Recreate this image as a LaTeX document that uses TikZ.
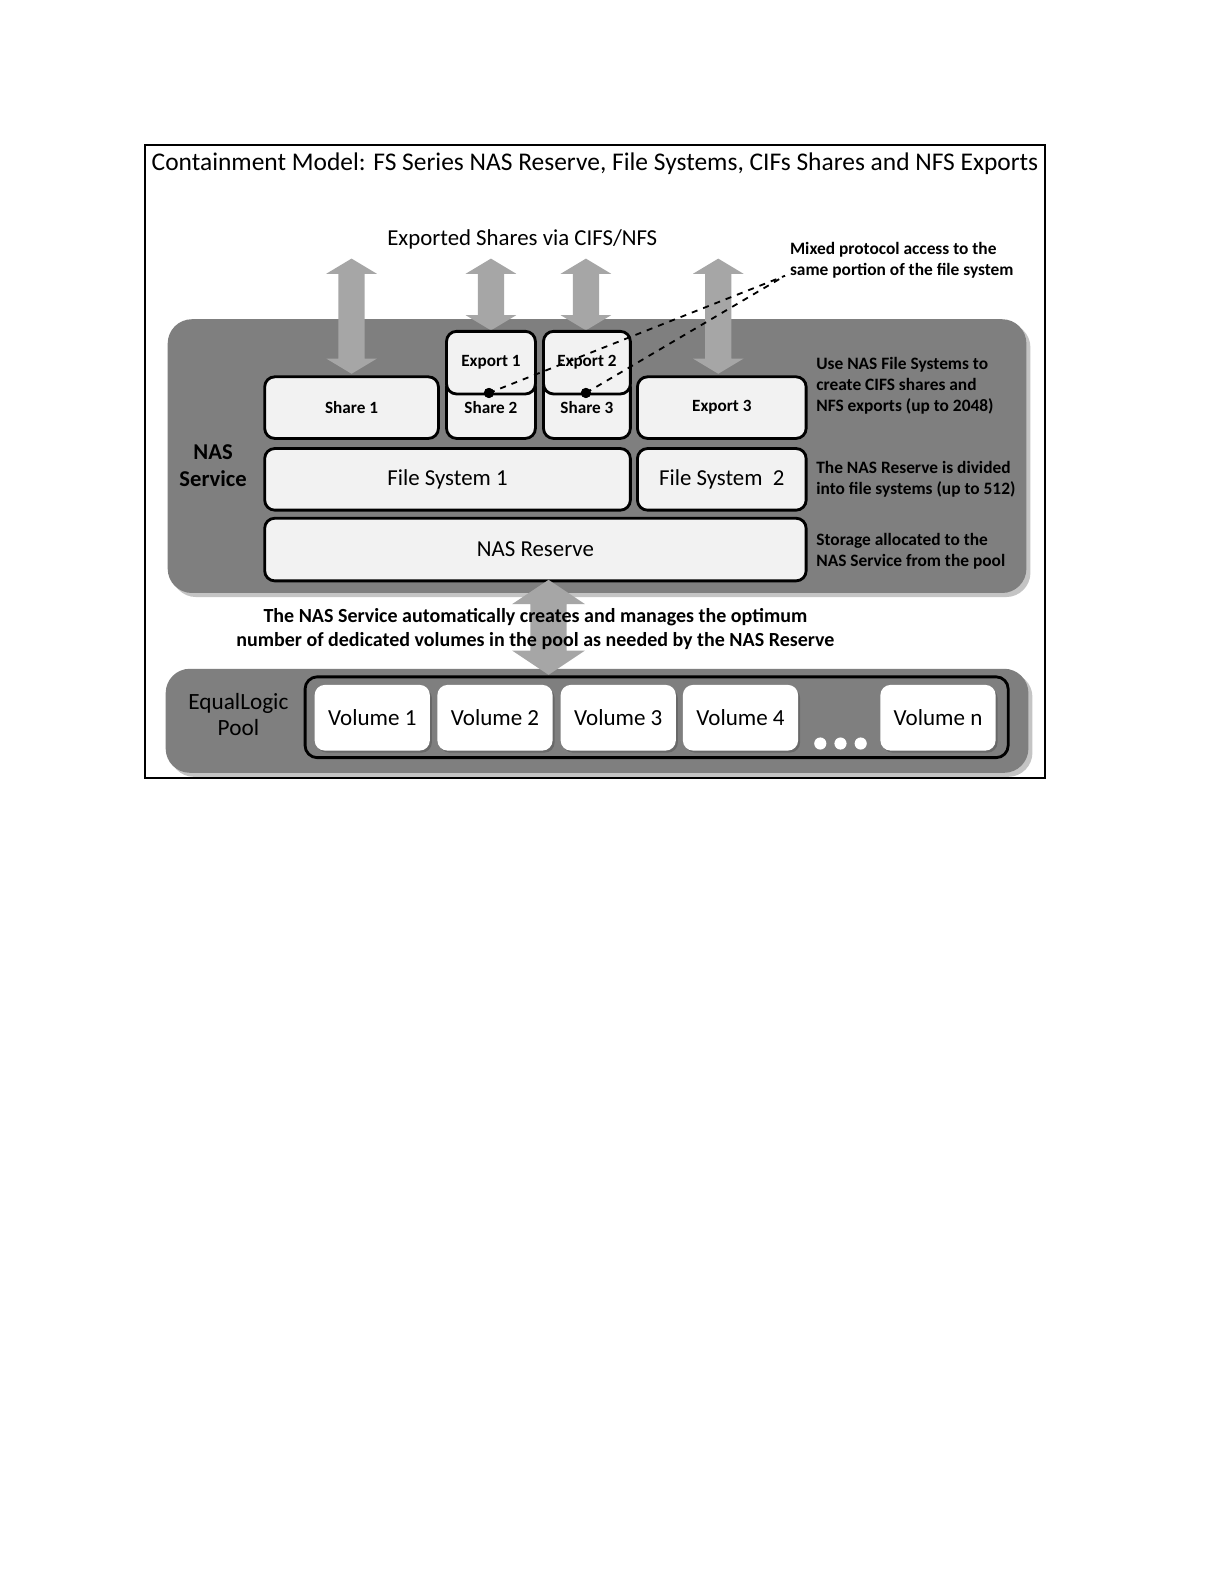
\documentclass[tikz,border=0pt]{standalone}
\usepackage{fontspec}
\setmainfont{Carlito}
\definecolor{panelgray}{HTML}{7F7F7F}
\definecolor{shadowgray}{HTML}{C4C4C4}
\definecolor{arrgray}{HTML}{A6A6A6}
\definecolor{boxfill}{HTML}{F2F2F2}
\def\pp{0.5pt}
% double block arrow: centre x, top y, bottom y, shaft half width, head half width, head length
\newcommand\dblarr[6]{%
  \fill[arrgray] (#1,#2) -- ({#1+#5},{#2+#6}) -- ({#1+#4},{#2+#6}) -- ({#1+#4},{#3-#6})
    -- ({#1+#5},{#3-#6}) -- (#1,#3) -- ({#1-#5},{#3-#6}) -- ({#1-#4},{#3-#6})
    -- ({#1-#4},{#2+#6}) -- ({#1-#5},{#2+#6}) -- cycle;}
\begin{document}
\begin{tikzpicture}[x=0.5pt,y=-0.5pt,
  panel/.style={fill=panelgray, rounded corners=12pt, inner sep=0pt},
  pshadow/.style={fill=shadowgray, rounded corners=12pt},
  box/.style={draw, line width=1.4pt, rounded corners=5pt, fill=boxfill, inner sep=0pt,
    font=\bfseries\fontsize{8.5}{10}\selectfont},
  bigbox/.style={box, font=\fontsize{11.3}{13}\selectfont},
  vol/.style={fill=white, rounded corners=5pt, inner sep=0pt,
    minimum width=114*\pp, minimum height=65*\pp, font=\fontsize{11.4}{13}\selectfont},
  vshadow/.style={fill=black, opacity=0.18, rounded corners=5pt},
  note/.style={anchor=west, align=left, font=\bfseries\fontsize{8.6}{10.3}\selectfont},
  dot/.style={circle, fill=black, inner sep=0pt, minimum size=10*\pp},
  wdot/.style={circle, fill=white, inner sep=0pt, minimum size=12*\pp}
]
\useasboundingbox (0,0) rectangle (1212,1568);
\fill[white] (0,0) rectangle (1212,1568);

% frame and title
\node[draw, line width=1pt, minimum width=890*\pp, minimum height=626*\pp, inner sep=0pt] (frame) at (589,457) {};
\node[font=\fontsize{12.6}{15}\selectfont] (title) at (589,162)
  {Containment Model: FS Series NAS Reserve, File Systems, CIFs Shares and NFS Exports};
\node[font=\fontsize{11.3}{13}\selectfont] (exported) at (517,237) {Exported Shares via CIFS/NFS};
\node[note] (mixed) at (775,258)
  {Mixed protocol access to the\\same portion of the file system};

% NAS service panel
\fill[pshadow] (170,320) rectangle (1020,591);
\node[panel, minimum width=850*\pp, minimum height=271*\pp] (nas) at (591,451.5) {};
\node[align=center, font=\bfseries\fontsize{11.2}{13.5}\selectfont] (naslbl) at (211,461) {NAS\\Service};

% top arrows
\dblarr{348}{256}{370}{13}{25}{15}
\dblarr{486}{256}{327}{13}{25}{15}
\dblarr{580}{256}{327}{13}{25}{15}
\dblarr{711}{256}{370}{13}{25}{15}

% shares and exports
\node[box, minimum width=172*\pp, minimum height=61*\pp] (share1) at (348,403.5) {Share 1};
\node[box, minimum width=88*\pp, minimum height=61*\pp] (share2) at (486,403.5) {Share 2};
\node[box, minimum width=88*\pp, minimum height=62*\pp] (export1) at (486,359) {Export 1};
\node[box, minimum width=86*\pp, minimum height=61*\pp] (share3) at (581,403.5) {Share 3};
\node[box, minimum width=86*\pp, minimum height=62*\pp] (export2) at (581,359) {Export 2};
\node[box, minimum width=167*\pp, minimum height=61*\pp] (export3) at (714.5,403.5) {Export 3};

% file systems and reserve
\node[bigbox, minimum width=362*\pp, minimum height=61*\pp] (fs1) at (443,474.5) {File System 1};
\node[bigbox, minimum width=167*\pp, minimum height=61*\pp] (fs2) at (714.5,474.5) {File System\ \ 2};
\node[bigbox, minimum width=536*\pp, minimum height=62*\pp] (reserve) at (530,544) {NAS Reserve};

% right-hand notes
\node[note] (n1) at (801,382) {Use NAS File Systems to\\create CIFS shares and\\NFS exports (up to 2048)};
\node[note] (n2) at (801,474.5) {The NAS Reserve is divided\\into file systems (up to 512)};
\node[note] (n3) at (801,546) {Storage allocated to the\\NAS Service from the pool};

% mixed protocol dashed lines
\coordinate (mixpt) at (777,273);
\node[dot] (d1) at (484,389) {};
\node[dot] (d2) at (580,389) {};
\draw[dashed, line width=0.9pt] (d1.center) -- (mixpt);
\draw[dashed, line width=0.9pt] (d2.center) -- (mixpt);
\node[dot] at (d1) {};
\node[dot] at (d2) {};

% pool panel
\fill[pshadow] (168,666) rectangle (1022,769);
\node[panel, minimum width=854*\pp, minimum height=103*\pp] (pool) at (591,713.5) {};
\node[align=center, font=\fontsize{11.5}{13}\selectfont] (poollbl) at (236,707) {EqualLogic\\Pool};
\node[draw, line width=1.4pt, rounded corners=6pt, minimum width=696*\pp, minimum height=80*\pp, inner sep=0pt] (poolin) at (650,710) {};

\foreach \cx in {368.5,490,612,733,928.5}
  \fill[vshadow] ({\cx-55},681) rectangle ({\cx+59},745);
\node[vol] (v1) at (368.5,710.5) {Volume 1};
\node[vol] (v2) at (490,710.5) {Volume 2};
\node[vol] (v3) at (612,710.5) {Volume 3};
\node[vol] (v4) at (733,710.5) {Volume 4};
\node[vol] (vn) at (928.5,710.5) {Volume n};
\node[wdot] (e1) at (812,736) {};
\node[wdot] (e2) at (832,736) {};
\node[wdot] (e3) at (852,736) {};

% bottom arrow and text
\dblarr{543}{574}{668}{18}{36}{24}
\node[align=center, font=\bfseries\fontsize{9.9}{12}\selectfont] (auto) at (530,623)
  {The NAS Service automatically creates and manages the optimum\\number of dedicated volumes in the pool as needed by the NAS Reserve};
\end{tikzpicture}
\end{document}
